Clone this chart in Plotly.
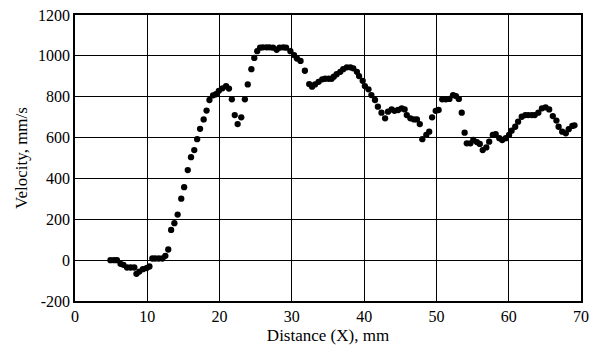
import plotly.graph_objects as go

distance_mm = [
    4.9, 5.4, 5.8, 6.3, 6.7, 7.2, 7.7, 8.2, 8.5, 8.9, 9.4, 9.9, 10.3,
    10.7, 11.1, 11.6, 12.1, 12.5, 12.9, 13.3, 13.75, 14.2, 14.7, 15.1,
    15.6, 16.05, 16.5, 16.9, 17.3, 17.8, 18.2, 18.6, 19.1, 19.5, 19.9,
    20.4, 20.9, 21.3, 21.7, 22.1, 22.5, 23.0, 23.5, 23.9, 24.4, 24.8,
    25.2, 25.6, 26.0, 26.5, 26.9, 27.4, 27.9, 28.3, 28.8, 29.2, 29.8,
    30.3, 30.7, 31.2, 31.8, 32.4, 32.8, 33.2, 33.7, 34.2, 34.6, 35.1,
    35.5, 35.8, 36.2, 36.7, 37.1, 37.6, 38.1, 38.5, 39.0, 39.3, 39.8,
    40.1, 40.6, 41.0, 41.5, 41.9, 42.4, 42.9, 43.3, 43.8, 44.2, 44.7,
    45.2, 45.6, 45.9, 46.4, 46.9, 47.3, 47.7, 48.05, 48.6, 49.0, 49.4,
    49.9, 50.3, 50.8, 51.3, 51.8, 52.3, 52.7, 53.1, 53.5, 53.9, 54.2,
    54.7, 55.1, 55.6, 56.0, 56.4, 56.9, 57.3, 57.8, 58.2, 58.7, 59.1,
    59.6, 60.05, 60.4, 60.9, 61.3, 61.8, 62.3, 62.7, 63.2, 63.6, 64.1,
    64.6, 65.1, 65.6, 66.1, 66.6, 66.9, 67.4, 67.9, 68.3, 68.8, 69.1,
]
velocity_mm_s = [
    0, 0, 0, -18, -23, -36, -36, -36, -67, -56, -44, -39, -31,
    8, 8, 8, 8, 21, 52, 148, 181, 223, 301, 357,
    441, 504, 539, 592, 643, 689, 732, 784, 807, 812, 829,
    841, 852, 840, 787, 710, 666, 699, 787, 860, 935, 990,
    1023, 1040, 1042, 1042, 1042, 1040, 1030, 1040, 1042, 1040, 1023,
    1004, 987, 975, 927, 862, 849, 860, 873, 885, 888, 888,
    888, 898, 910, 922, 935, 944, 944, 939, 922, 901, 878,
    852, 836, 808, 784, 751, 722, 694, 727, 738, 731, 735,
    743, 738, 710, 694, 689, 689, 666, 592, 613, 629, 699,
    731, 735, 787, 787, 789, 808, 803, 789, 722, 624, 572,
    572, 588, 578, 569, 539, 552, 580, 613, 617, 597, 588,
    597, 613, 634, 653, 678, 702, 710, 710, 710, 710, 722,
    743, 748, 738, 705, 683, 653, 629, 621, 641, 657, 660,
]

x_ticks = [0, 10, 20, 30, 40, 50, 60, 70]
y_ticks = [-200, 0, 200, 400, 600, 800, 1000, 1200]
y_tick_labels = ["-200", "0", "200", "400", "600", "800", "1000", "1200"]

font_family = "Liberation Serif, Times New Roman, serif"

fig = go.Figure(
    go.Scatter(
        x=distance_mm,
        y=velocity_mm_s,
        mode="markers",
        marker=dict(color="black", size=6.3),
        showlegend=False,
    )
)

fig.update_layout(
    width=605,
    height=352,
    margin=dict(l=75, r=24, t=15, b=51),
    paper_bgcolor="white",
    plot_bgcolor="white",
    font=dict(family=font_family, size=16, color="black"),
)

fig.update_xaxes(
    range=[0, 70],
    tickvals=x_ticks,
    showgrid=True,
    gridcolor="black",
    gridwidth=1,
    showline=True,
    linecolor="black",
    linewidth=1.5,
    mirror=True,
    zeroline=False,
    ticks="",
    automargin=False,
    tickfont=dict(size=16),
    title=dict(text="Distance (X), mm", font=dict(size=17), standoff=5),
)
fig.update_yaxes(
    range=[-200, 1200],
    tickvals=y_ticks,
    ticktext=y_tick_labels,
    showgrid=True,
    gridcolor="black",
    gridwidth=1,
    showline=True,
    linecolor="black",
    linewidth=1.5,
    mirror=True,
    zeroline=False,
    ticks="",
    automargin=False,
    tickfont=dict(size=16),
    title=dict(text="Velocity, mm/s", font=dict(size=17), standoff=6),
)

fig.write_html(
    "out.html",
    config={"displayModeBar": False},
    post_script="document.body.style.margin='0';document.body.style.overflow='hidden';",
)
